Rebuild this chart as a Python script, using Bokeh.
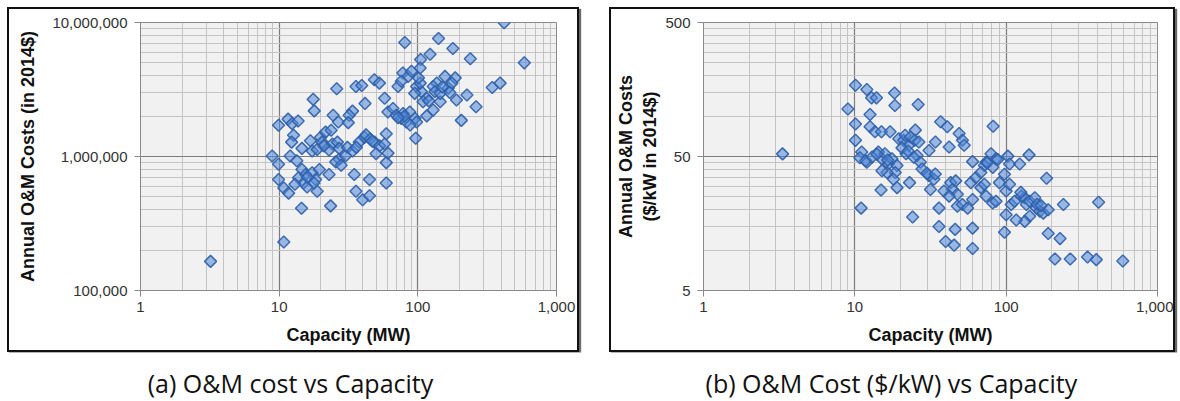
import math
from bokeh.plotting import figure
from bokeh.models import FixedTicker, Spacer, Range1d
from bokeh.core.properties import value
from bokeh.layouts import row, column
from bokeh.embed import file_html
from bokeh.resources import INLINE

# ---------------- data ----------------
# Panel (a): capacity (MW) vs annual O&M cost (2014$)
CAP_A = [3.2,
         26.0, 17.6, 17.9, 41.6, 35.8, 39.4, 48.6, 52.8,
         33.8, 32.0, 24.5, 26.7, 31.5, 9.9, 11.6, 12.4, 13.7, 12.7, 12.3,
         16.8, 19.9, 21.6, 23.7, 20.4, 24.2, 26.3, 14.6, 17.3, 18.8,
         22.9, 27.1, 31.1, 33.9, 37.8, 41.2, 42.3, 45.3, 48.7, 53.0, 59.2, 57.6, 60.9,
         59.2, 8.9, 9.9, 12.0, 13.4,
         14.6, 15.5, 17.3, 18.3, 13.8, 15.0, 9.9, 10.8, 11.7, 15.9, 18.8, 17.8,
         22.9, 27.1, 30.1, 25.6, 34.8, 44.8, 35.8, 40.0, 44.8, 59.2, 14.5, 23.5, 10.8,
         419, 80.5, 141, 179, 239, 586, 122.5, 104.7, 344, 392, 226, 263, 206, 190,
         186, 166, 157, 176, 145, 137, 129, 133, 116, 145, 116, 129,
         98, 106, 95, 109, 104, 101, 72, 78, 85, 90, 76, 104,
         57.6, 60.9, 66.2, 70, 76, 82.7, 78.3, 87.5, 95.3, 98, 96.5,
         16.0, 19.5, 13.0, 21.0, 150, 170, 120, 80, 72, 88, 47, 50, 28, 36]
COST_A = [165000,
          3.2e6, 2.67e6, 2.19e6, 2.49e6, 3.33e6, 3.39e6, 3.74e6, 3.53e6,
          2.18e6, 2.03e6, 2.03e6, 1.81e6, 1.79e6, 1.71e6, 1.9e6, 1.76e6, 1.84e6, 1.44e6, 1.28e6,
          1.31e6, 1.39e6, 1.52e6, 1.57e6, 1.28e6, 1.24e6, 1.28e6, 1.15e6, 1.1e6, 1.13e6,
          1.12e6, 1.15e6, 1.17e6, 1.1e6, 1.28e6, 1.39e6, 1.45e6, 1.35e6, 1.28e6, 1.2e6, 1.48e6, 1.24e6, 1.06e6,
          0.9e6, 1.01e6, 0.875e6, 1.01e6, 0.93e6,
          0.8e6, 0.735e6, 0.757e6, 0.673e6, 0.693e6, 0.635e6, 0.673e6, 0.582e6, 0.533e6, 0.593e6, 0.55e6, 0.635e6,
          0.735e6, 0.955e6, 1.01e6, 0.912e6, 0.735e6, 0.673e6, 0.55e6, 0.475e6, 0.51e6, 0.635e6, 0.411e6, 0.428e6, 0.23e6,
          9.95e6, 7.1e6, 7.6e6, 6.4e6, 5.37e6, 5.0e6, 5.8e6, 5.3e6, 3.27e6, 3.53e6, 2.88e6, 2.35e6, 1.86e6, 2.64e6,
          3.86e6, 3.24e6, 3.96e6, 3.53e6, 2.56e6, 3.53e6, 3.33e6, 3.05e6, 2.72e6, 2.96e6, 2.01e6, 2.22e6,
          3.33e6, 3.05e6, 2.96e6, 2.56e6, 3.53e6, 3.86e6, 3.33e6, 4.2e6, 3.96e6, 4.33e6, 3.64e6, 4.58e6,
          2.72e6, 2.15e6, 2.28e6, 2.03e6, 1.92e6, 1.81e6, 2.09e6, 2.15e6, 1.92e6, 1.81e6, 1.37e6,
          0.70e6, 0.80e6, 0.62e6, 1.2e6, 3.3e6, 3.0e6, 2.6e6, 2.0e6, 1.95e6, 1.72e6, 1.3e6, 1.05e6, 0.86e6, 1.17e6]

# Panel (b): capacity (MW) vs annual O&M cost ($/kW, 2014$)
CAP_B = [3.33, 10.1, 9.0, 12.0, 12.9, 13.9, 12.6, 18.3, 18.4, 26.2, 10.1, 10.1,
         12.6, 13.6, 15.0, 17.1,
         11.1, 12.0, 14.3, 15.1, 15.8, 16.7, 17.6, 19.0, 18.5, 16.3, 15.1, 18.0, 19.0, 14.9,
         11.0,
         19.5, 21.0, 21.5, 22.7, 21.8, 23.3, 25.1, 24.9, 26.5, 25.8, 27.1, 27.8, 24.5,
         23.0, 24.1,
         30.9, 31.6, 33.3, 30.9, 34.1, 36.9, 40.8, 48.9, 42, 36, 36, 39.8, 45.3, 46, 47.6, 43, 44.2, 46.4, 38.8,
         51.4, 52.8,
         60, 73.6, 79.4, 85.7, 71.8, 81.5, 102.6, 105.3, 122.8, 141.6,
         47.6, 42, 51.4, 55.6, 60, 58.4, 63.1, 68.1, 71.8, 73.6, 81.5, 85.7, 90.3, 97.5, 100, 105.3,
         108, 113.7, 126, 132.7, 136, 143, 154.6, 158.5, 167, 176, 189.6, 143, 132.7, 116.6, 100,
         97.5, 60, 60, 185, 239, 408, 189.6, 227, 210, 265, 345, 394, 590, 82,
         10.8, 11.8, 13.0, 14.0, 16.5, 75, 88, 68, 160, 170, 125, 30, 34, 20.5, 22.5]
COSTKW_B = [52.3, 170, 113, 158, 137, 137, 103, 149, 120, 122, 87.4, 66,
            83.4, 76.4, 76.4, 76.4,
            54, 45.3, 54, 48, 52.4, 44, 48, 42.8, 38, 38, 39.2, 33.8, 29.3, 28.1,
            20.6,
            67.9, 66.1, 72.1, 60.6, 52.4, 70, 78.7, 66.1, 64.1, 50.9, 45.3, 40.3, 49.4,
            31.9, 17.7,
            35.9, 28.4, 33.8, 55.5, 64.1, 90.9, 83.4, 74.2, 58.8, 20.6, 15, 11.6, 10.9, 14.3, 21.3, 31.9, 28.4, 32.9, 27.6,
            66.1, 60.6,
            45.8, 45.3, 52.4, 48, 42.8, 41.5, 50.3, 44, 44, 51.4,
            26.1, 25.3, 21.9, 20.6, 23.9, 31.9, 34.8, 29.3, 31, 25.3, 22.5, 23.2, 31.9, 36.9, 27.6, 31,
            21.9, 23.2, 25.3, 24.6, 21.9, 23.2, 24.6, 20.6, 19.5, 18.9, 20, 17.9, 16.4, 16.8, 18.4,
            13.6, 10.3, 14.6, 34.4, 21.9, 22.8, 13.3, 12.2, 8.6, 8.6, 8.9, 8.5, 8.3, 84,
            49, 46.5, 49.5, 52, 47, 45, 47.5, 38, 22, 21.5, 27, 37.5, 37, 58, 55]

X_TICKS = [1, 10, 100, 1000]
X_TICK_LABELS = ["1", "10", "100", "1,000"]
YA_TICKS = [100000, 1000000, 10000000]
YA_TICK_LABELS = ["100,000", "1,000,000", "10,000,000"]
YB_TICKS = [5, 50, 500]
YB_TICK_LABELS = ["5", "50", "500"]

X_TITLE = "Capacity (MW)"
YA_TITLE = "Annual O&M Costs (in 2014$)"
YB_TITLE = "Annual O&M Costs\n($/kW in 2014$)"
CAPTIONS = ["(a) O&M cost vs Capacity", "(b) O&M Cost ($/kW) vs Capacity"]

BOX_STYLE = {"border": "2px solid #111111", "box-shadow": "2px 2px 1px #6a6a6a"}


def minor_list(ticks):
    out = []
    for t in ticks[:-1]:
        out += [k * t for k in range(2, 10)]
    return out


def make_panel(cap, val, yticks, ylabels, ytitle, width, left, frame_w, y_label_standoff):
    FH = 264
    right = width - left - frame_w
    p = figure(x_axis_type="log", y_axis_type="log",
               x_range=(X_TICKS[0], X_TICKS[-1]), y_range=(yticks[0], yticks[-1]),
               frame_width=frame_w, frame_height=FH,
               min_border_left=left, min_border_right=right,
               min_border_top=13, min_border_bottom=341 - 13 - FH,
               output_backend="svg", toolbar_location=None,
               background_fill_color="#f1f1f1", border_fill_color="white",
               outline_line_color="#8a8a8a", outline_line_width=1,
               styles=BOX_STYLE)
    xt = FixedTicker(ticks=X_TICKS, minor_ticks=minor_list(X_TICKS))
    yt = FixedTicker(ticks=yticks, minor_ticks=minor_list(yticks))
    p.xaxis.ticker = xt
    p.xgrid.ticker = xt
    p.yaxis.ticker = yt
    p.ygrid.ticker = yt
    p.xaxis.major_label_overrides = dict(zip(X_TICKS, X_TICK_LABELS))
    p.yaxis.major_label_overrides = dict(zip(yticks, ylabels))
    for g in (p.xgrid, p.ygrid):
        g.grid_line_color = "#7c7c7c"
        g.grid_line_width = 1.2
        g.minor_grid_line_color = "#c4c4c4"
        g.minor_grid_line_width = 1
    for ax in (p.xaxis, p.yaxis):
        ax.axis_line_color = "#8a8a8a"
        ax.major_tick_line_color = "#8a8a8a"
        ax.major_tick_out = 6
        ax.major_tick_in = 0
        ax.minor_tick_line_color = None
        ax.major_label_text_font = "Liberation Sans"
        ax.major_label_text_font_size = "15px"
        ax.major_label_text_color = "#333333"
        ax.axis_label_text_font = "Liberation Sans"
        ax.axis_label_text_font_style = "bold"
        ax.axis_label_text_font_size = "18px"
        ax.axis_label_text_color = "#111111"
    p.xaxis.axis_label = X_TITLE
    p.yaxis.axis_label = ytitle
    p.xaxis.major_label_standoff = 5
    p.xaxis.axis_label_standoff = 10
    p.yaxis.major_label_standoff = 7
    p.yaxis.axis_label_standoff = y_label_standoff

    p.scatter(cap, val, marker="square", angle=math.pi / 4, size=8.5,
              fill_color="#4f86d9", fill_alpha=0.55,
              line_color="#2f5fa6", line_alpha=0.9, line_width=1.5)
    return p


# inner (content) sizes of the two bordered boxes: 568x341 and 562x341
pa = make_panel(CAP_A, COST_A, YA_TICKS, YA_TICK_LABELS, YA_TITLE, 568, 131, 412, 11)
pb = make_panel(CAP_B, COSTKW_B, YB_TICKS, YB_TICK_LABELS, YB_TITLE, 562, 92, 450, 2)

cap_fig = figure(width=1180, height=49, x_range=Range1d(0, 2), y_range=Range1d(0, 1),
                 min_border=0, output_backend="svg", toolbar_location=None,
                 outline_line_color=None, background_fill_color="white",
                 border_fill_color="white")
cap_fig.axis.visible = False
cap_fig.grid.visible = False
cap_fig.text(x=[0.4915, 1.51], y=[0.38, 0.38], text=CAPTIONS,
             text_align="center", text_baseline="middle",
             text_font=value("Open Sans"), text_font_size="25px", text_color="#111111")

top = row(Spacer(width=7), pa, Spacer(width=30), pb, spacing=0)
layout = column(Spacer(height=7), top, cap_fig, spacing=0)
open("out.html", "w").write(file_html(layout, INLINE))
